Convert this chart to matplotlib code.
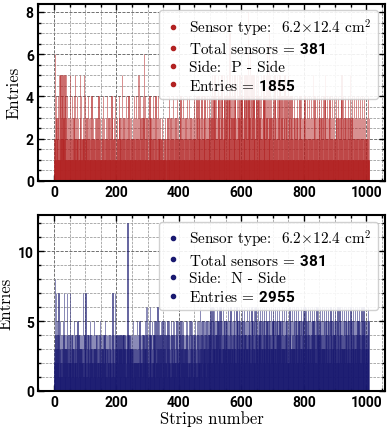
import numpy as np
import matplotlib
matplotlib.use("Agg")
import matplotlib.pyplot as plt
from matplotlib.ticker import MultipleLocator
from matplotlib.lines import Line2D

plt.rcParams['mathtext.fontset'] = 'custom'
plt.rcParams['mathtext.rm'] = 'cmr10'
plt.rcParams['mathtext.it'] = 'cmmi10'
plt.rcParams['mathtext.bf'] = 'Roboto:bold'
plt.rcParams['axes.unicode_minus'] = False

# entries per strip, one hex digit per strip
p_side_rows = [
    "12162141322143152151251324152231251421531241321231",
    "21512314212132412521312142131221531214121231252141",
    "12123121412131213121412131212131212131212141213121",
    "12131214123121213121412131212131214131212131214121",
    "13121214132121312151213121312141213121412131213121",
    "21312141213141213151215131412131214131612141213121",
    "13121412131213121412131214121321412131213121213121",
    "12121312101213121214121312131214131212131214121312",
    "12131412131214121312131214121312141213121312131214",
    "21312141312141312131214121312131412131214131214131",
    "21413151314121513141213151413121413151413121514131",
    "31415121413171214131514131215141312151413121513141",
    "41513121415131415121814151316121513141514121315141",
    "31514121314151213141513141215131615121713151413121",
    "41312151413121514131415121314131214131512131412151",
    "21314121314121312141312121314121312141314121312131",
    "31412131214131214121314121315121314121312141312141",
    "31214131214131214151312141312131412131214131214121",
    "21413121314121312141512131412131412131213141213151",
    "21314121314121314121314121312141312141213141213121",
    "2131412131",
]
n_side_rows = [
    "32831427352432734153324314235242731243243742314232",
    "43723142432431524342314325314243241324324273142432",
    "37241324324132531423324214325314234243123423142532",
    "41324323422431532413432423142332431427432431724324",
    "43434243434134343424434343434142343c434243434342",
    "32431523424132432532432415243234231423424352436243",
    "62431524363424153242435243152424362431524243524315",
    "24315243524243153242352431524342524315243241524352",
    "23524315243524352431324352435243152423152435243214",
    "32435243152435243526435243152435243524315243524352",
    "45364524365435463524354635425364354635245364352453",
    "34535243643524353624354352463534524365352436435243",
    "53463524353645243534635243564352436535243635243653",
    "43536245354635243653425364352436543524365342536435",
    "35436524356342536435243654352436534253643524365342",
    "43524365432536435243653425364352436543524365342536",
    "53426354365243563425364352436534253643524365243564",
    "34536425364352436534253643524365342536435243653425",
    "43653425364352436534253643524365342536435243653425",
    "36435243653425364352436534253643524365342536435243",
    "5342536435",
]
p_counts = np.array([int(c, 16) for c in "".join(p_side_rows)])
n_counts = np.array([int(c, 16) for c in "".join(n_side_rows)])

p_info = ["Sensor type:  6.2$\\times$12.4 cm$^2$", "Total sensors = $\\mathbf{381}$",
          "Side:  P - Side", "Entries = $\\mathbf{1855}$"]
n_info = ["Sensor type:  6.2$\\times$12.4 cm$^2$", "Total sensors = $\\mathbf{381}$",
          "Side:  N - Side", "Entries = $\\mathbf{2955}$"]

tick_font = dict(family=['Roboto', 'DejaVu Sans'], weight='bold', size=10)
text_font = dict(family='cmr10', size=11)


def draw_panel(ax, counts, color, info, ymaj, ymin):
    strips = np.arange(len(counts))
    ax.bar(strips, counts, width=1.0, align='edge', color=color, alpha=0.6,
           edgecolor=color, linewidth=0.6, zorder=2)
    ax.set_xlim(-51, 1060)
    ax.set_ylim(0, counts.max() * 1.05)
    ax.xaxis.set_major_locator(MultipleLocator(200))
    ax.xaxis.set_minor_locator(MultipleLocator(50))
    ax.yaxis.set_major_locator(MultipleLocator(ymaj))
    ax.yaxis.set_minor_locator(MultipleLocator(ymin))
    ax.grid(which='major', ls='--', color='0.35', lw=0.6, zorder=0)
    ax.grid(which='minor', ls='--', color='0.55', lw=0.5, zorder=0)
    ax.tick_params(which='both', direction='in', top=True, right=True, width=1.0, pad=3)
    ax.tick_params(which='major', length=4)
    ax.tick_params(which='minor', length=2)
    for lab in ax.get_xticklabels() + ax.get_yticklabels():
        lab.set(**tick_font)
    for sp in ax.spines.values():
        sp.set_linewidth(1.5)
    ax.set_ylabel('Entries', fontfamily='cmr10', fontsize=12, labelpad=3)
    handles = [Line2D([], [], ls='none', marker='o', ms=3, color=color) for _ in info]
    leg = ax.legend(handles, info, loc='upper right', prop=text_font,
                    handlelength=1.0, handletextpad=0.6,
                    labelspacing=0.25, borderpad=0.4, framealpha=0.9,
                    fancybox=True, borderaxespad=0.45)
    leg.get_frame().set_edgecolor('0.8')
    leg.set_zorder(5)


fig = plt.figure(figsize=(3.9, 4.31), dpi=100)
ax1 = fig.add_axes([38 / 390, 1 - 182 / 431, 347 / 390, 177.5 / 431])
ax2 = fig.add_axes([38 / 390, 1 - 392 / 431, 347 / 390, 176.3 / 431])

draw_panel(ax1, p_counts, '#b22222', p_info, 2, 0.5)
draw_panel(ax2, n_counts, '#191970', n_info, 5, 1)
ax2.set_xlabel('Strips number', fontfamily='cmr10', fontsize=12, labelpad=1)

fig.savefig('out.png', dpi=100)
